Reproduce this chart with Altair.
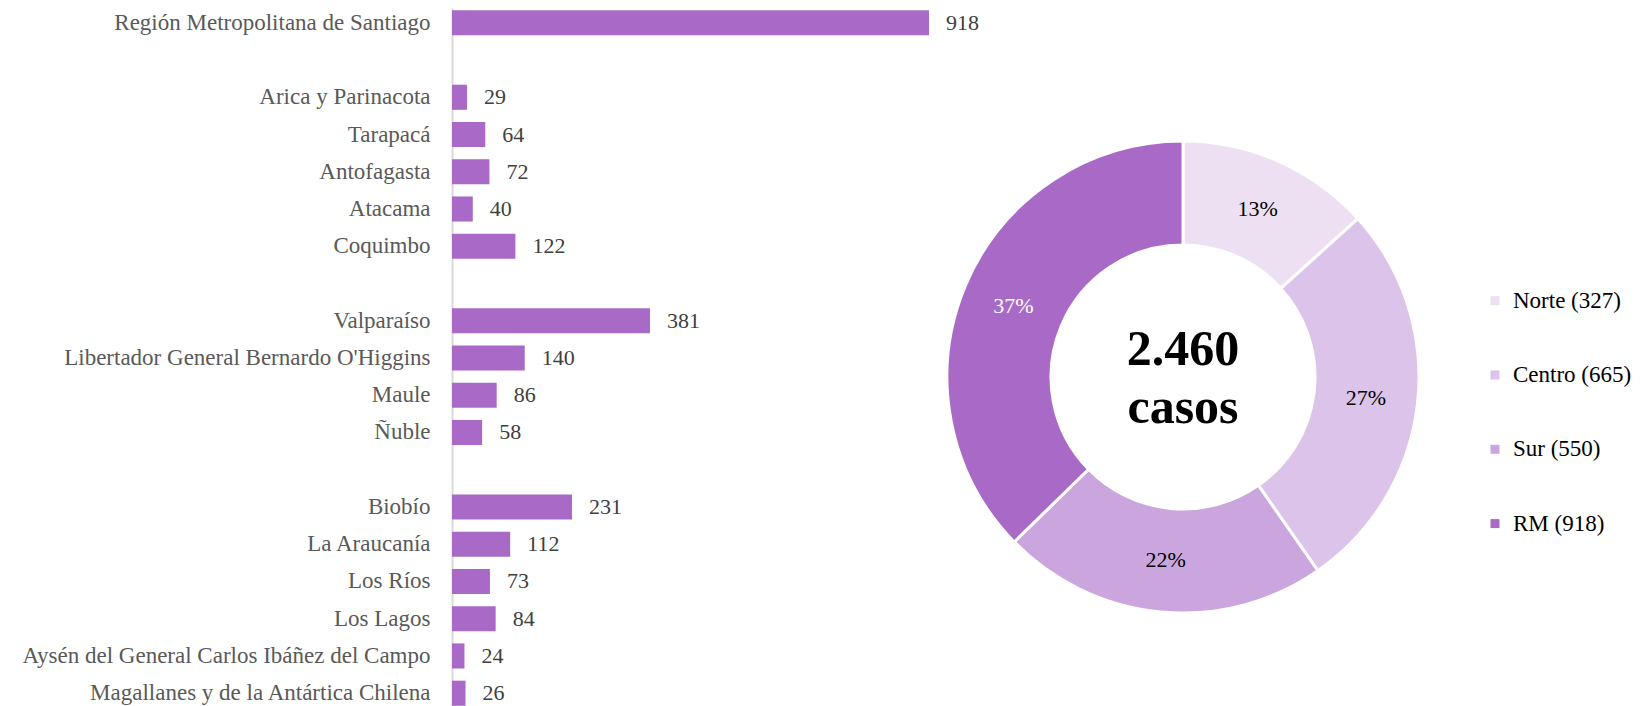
import altair as alt
import pandas as pd

# ---- data ----
regions = ["Región Metropolitana de Santiago", " ",
           "Arica y Parinacota", "Tarapacá", "Antofagasta", "Atacama", "Coquimbo", "  ",
           "Valparaíso", "Libertador General Bernardo O'Higgins", "Maule", "Ñuble", "   ",
           "Biobío", "La Araucanía", "Los Ríos", "Los Lagos",
           "Aysén del General Carlos Ibáñez del Campo", "Magallanes y de la Antártica Chilena"]
region_names = [r for r in regions if r.strip()]
region_values = [918, 29, 64, 72, 40, 122, 381, 140, 86, 58, 231, 112, 73, 84, 24, 26]

zones = ["Norte", "Centro", "Sur", "RM"]
zone_values = [327, 665, 550, 918]
zone_colors = ["#EDE0F3", "#DCC3E9", "#CBA5DE", "#A86AC6"]
total_label = ["2.460", "casos"]

FONT = "Liberation Serif"
H = 700

bars_df = pd.DataFrame({"region": region_names, "value": region_values})
zone_df = pd.DataFrame({"zone": zones, "value": zone_values, "idx": list(range(len(zones)))})
zone_df["label"] = [f"{z} ({v})" for z, v in zip(zones, zone_values)]
zone_df["pct"] = zone_df["value"] / zone_df["value"].sum()

# ---- bar chart ----
y_enc = alt.Y("region:N",
              scale=alt.Scale(domain=regions, paddingInner=0.326, paddingOuter=0.06),
              axis=alt.Axis(title=None, ticks=False, labelPadding=22, labelFontSize=23,
                            labelFont=FONT, labelColor="#595959", domainColor="#D9D9D9",
                            domainWidth=2, minExtent=444, maxExtent=444, labelLimit=440,
                            grid=False))
x_enc = alt.X("value:Q", scale=alt.Scale(domain=[0, 918], nice=False), axis=None)

bar_base = alt.Chart(bars_df).encode(y=y_enc, x=x_enc)
bars = bar_base.mark_bar(color="#A86AC6")
bar_text = bar_base.mark_text(align="left", baseline="middle", dx=17, font=FONT,
                              fontSize=22, color="#404040").encode(text="value:Q")
bar_chart = (bars + bar_text).properties(width=477, height=H)

# ---- donut ----
CX, CY = 241, 369
donut_base = alt.Chart(zone_df).encode(
    theta=alt.Theta("value:Q", stack=True),
    order=alt.Order("idx:Q"),
)
color_scale = alt.Scale(domain=list(zone_df["label"]), range=zone_colors)
arcs = donut_base.mark_arc(outerRadius=236, innerRadius=132, stroke="white",
                           strokeWidth=3).encode(
    x=alt.value(CX), y=alt.value(CY),
    color=alt.Color("label:N", scale=color_scale, legend=None),
)
pct_text = donut_base.mark_text(radius=184, font=FONT, fontSize=22).encode(
    x=alt.value(CX), y=alt.value(CY),
    text=alt.Text("pct:Q", format=".0%"),
    color=alt.condition(alt.datum.zone == "RM", alt.value("white"), alt.value("black")),
)
center_text = alt.Chart(pd.DataFrame({"t": [0]})).mark_text(
    font=FONT, fontSize=50, fontWeight="bold", color="black",
    lineHeight=58, baseline="middle", align="center"
).encode(x=alt.value(CX), y=alt.value(342), text=alt.value(total_label))

donut = (arcs + pct_text + center_text).properties(width=482, height=H)

# ---- legend (manual) ----
leg_y = alt.Y("idx:Q", scale=alt.Scale(domain=[-3.939, 5.482], nice=False, zero=False,
                                        reverse=True), axis=None)
leg_base = alt.Chart(zone_df).encode(y=leg_y)
leg_sym = leg_base.mark_square(size=81, opacity=1).encode(
    x=alt.value(58),
    color=alt.Color("label:N", scale=color_scale, legend=None))
leg_txt = leg_base.mark_text(align="left", baseline="middle", dx=18, font=FONT,
                             fontSize=23, color="black").encode(
    x=alt.value(58), text="label:N")
legend = (leg_sym + leg_txt).properties(width=170, height=H)

chart = alt.hconcat(bar_chart, donut, legend, spacing=13, bounds="flush").properties(
    padding=0).configure_view(stroke=None)

chart.save("out.html", embed_options={"renderer": "svg", "actions": False})
